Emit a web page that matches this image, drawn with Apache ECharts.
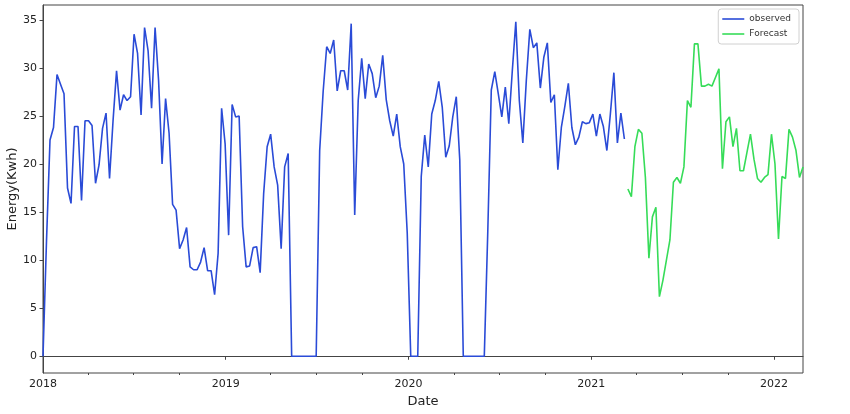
<!DOCTYPE html>
<html>
<head>
<meta charset="utf-8">
<script src="https://cdn.jsdelivr.net/npm/echarts@6/dist/echarts.min.js"></script>
<style>
html,body{margin:0;padding:0;background:#fff;}
#chart{width:850px;height:414px;}
</style>
</head>
<body>
<div id="chart"></div>
<script>
// ---- data (weekly) ----
const observedStart = '2018-01-01';
const forecastStart = '2021-03-15';
const stepDays = 7;
const observed = [
  0, 12, 22.5, 23.8, 29.3, 28.3, 27.3, 17.5, 15.9, 23.9,
  23.9, 16.2, 24.5, 24.5, 24.0, 18.0, 19.9, 23.7, 25.3, 18.5,
  24.5, 29.7, 25.6, 27.2, 26.6, 27.0, 33.5, 31.5, 25.1, 34.2,
  31.8, 25.8, 34.2, 28.7, 20.0, 26.8, 23.2, 15.8, 15.2, 11.2,
  12.1, 13.4, 9.3, 9.0, 9.0, 9.8, 11.3, 8.9, 8.9, 6.4,
  10.7, 25.8, 22.1, 12.6, 26.2, 24.9, 25.0, 13.5, 9.3, 9.4,
  11.3, 11.4, 8.7, 16.9, 21.8, 23.1, 19.7, 17.8, 11.2, 19.7,
  21.1, 0, 0, 0, 0, 0, 0, 0, 0, 21.4,
  27.6, 32.2, 31.5, 32.9, 27.6, 29.7, 29.7, 27.7, 34.6, 14.7,
  26.6, 31.0, 26.8, 30.4, 29.4, 26.9, 28.1, 31.3, 26.7, 24.5,
  22.9, 25.2, 21.8, 20.0, 12.8, 0, 0, 0, 18.7, 23.0,
  19.7, 25.2, 26.6, 28.6, 25.9, 20.7, 21.9, 24.9, 27.0, 20.4,
  0, 0, 0, 0, 0, 0, 0, 13, 27.7, 29.6,
  27.3, 24.9, 28.0, 24.2, 29.7, 34.8, 26.6, 22.2, 28.7, 34.0,
  32.1, 32.6, 27.9, 31.1, 32.6, 26.4, 27.2, 19.4, 23.8, 26.0,
  28.4, 23.8, 22.0, 22.8, 24.4, 24.2, 24.3, 25.2, 22.9, 25.2,
  23.9, 21.4, 25.2, 29.5, 22.2, 25.3, 22.6
];
const forecast = [
  17.4, 16.6, 21.8, 23.6, 23.2, 18.6, 10.2, 14.5, 15.5, 6.2,
  7.9, 10.0, 12.1, 18.1, 18.6, 18.0, 19.7, 26.6, 25.9, 32.5,
  32.5, 28.1, 28.1, 28.3, 28.1, 29.0, 29.9, 19.5, 24.4, 24.9,
  21.8, 23.7, 19.3, 19.3, 21.2, 23.1, 20.5, 18.5, 18.1, 18.6,
  18.9, 23.1, 20.0, 12.2, 18.7, 18.5, 23.6, 22.8, 21.4, 18.6,
  19.7
];
const yTicks = [0, 5, 10, 15, 20, 25, 30, 35];
const yearTicks = [2018, 2019, 2020, 2021, 2022];
const quarterTickDates = [
  '2018-04-01','2018-07-01','2018-10-01',
  '2019-04-01','2019-07-01','2019-10-01',
  '2020-04-01','2020-07-01','2020-10-01',
  '2021-04-01','2021-07-01','2021-10-01'
];

// ---- helpers ----
const DAY = 86400000;
const base = Date.parse('2018-01-01T00:00:00Z');
function toYear(ms){ return 2018 + (ms - base) / (365.25 * DAY); }
function dateMs(s){ return Date.parse(s + 'T00:00:00Z'); }
function weekly(start, vals){
  const s = dateMs(start);
  return vals.map((v, i) => [toYear(s + i * stepDays * DAY), v]);
}
const obsData = weekly(observedStart, observed);
const fcData = weekly(forecastStart, forecast);
const xMin = obsData[0][0];
const xMax = fcData[fcData.length - 1][0];
const allY = observed.concat(forecast);
const yLo = Math.min.apply(null, allY), yHi = Math.max.apply(null, allY);
const yPad = (yHi - yLo) * 0.05;
const quarterTicks = quarterTickDates.map(d => toYear(dateMs(d)));

const FONT = 'DejaVu Sans';
const frame = '#444';
const chart = echarts.init(document.getElementById('chart'), null, {renderer: 'canvas'});
chart.setOption({
  animation: false,
  backgroundColor: '#fff',
  textStyle: {fontFamily: FONT},
  grid: {left: 43, right: 47, top: 5, bottom: 41, show: true, borderColor: frame, borderWidth: 1,
    containLabel: false, outerBoundsMode: 'none'},
  legend: {
    orient: 'vertical', right: 51, top: 9,
    backgroundColor: '#fff', borderColor: '#d0d0d0', borderWidth: 1, borderRadius: 3,
    padding: [5, 8, 5, 4], itemGap: 5, itemWidth: 22, itemHeight: 1.6,
    icon: 'rect',
    textStyle: {fontFamily: FONT, fontSize: 9, color: '#333', lineHeight: 10},
    data: ['observed', 'Forecast']
  },
  xAxis: [{
    type: 'value', min: xMin, max: xMax,
    name: 'Date', nameLocation: 'middle', nameGap: 22, nameMoveOverlap: false,
    nameTextStyle: {fontFamily: FONT, fontSize: 13, color: '#222'},
    axisLine: {show: true, lineStyle: {color: frame, width: 1}},
    axisTick: {show: true, length: 3.5, lineStyle: {color: frame}, customValues: yearTicks},
    axisLabel: {fontFamily: FONT, fontSize: 11, color: '#222', margin: 6, customValues: yearTicks,
      formatter: v => String(Math.round(v))},
    splitLine: {show: false}
  }, {
    type: 'value', min: xMin, max: xMax, position: 'bottom',
    axisLine: {show: false},
    axisTick: {show: true, length: 2, lineStyle: {color: frame}, customValues: quarterTicks},
    axisLabel: {show: false},
    splitLine: {show: false}
  }],
  yAxis: {
    type: 'value', min: yLo - yPad, max: yHi + yPad,
    name: 'Energy(Kwh)', nameLocation: 'middle', nameGap: 24, nameMoveOverlap: false,
    nameTextStyle: {fontFamily: FONT, fontSize: 13, color: '#222'},
    axisLine: {show: true, lineStyle: {color: frame, width: 1}},
    axisTick: {show: true, length: 3.5, lineStyle: {color: frame}, customValues: yTicks},
    axisLabel: {fontFamily: FONT, fontSize: 11, color: '#222', margin: 6, customValues: yTicks},
    splitLine: {show: false}
  },
  series: [{
    name: 'observed', type: 'line', data: obsData, symbol: 'none',
    lineStyle: {color: '#2a4bd7', width: 1.6}, itemStyle: {color: '#2a4bd7'}
  }, {
    name: 'Forecast', type: 'line', data: fcData, symbol: 'none',
    lineStyle: {color: '#36dc58', width: 1.6}, itemStyle: {color: '#36dc58'}
  }]
});
</script>
</body>
</html>
